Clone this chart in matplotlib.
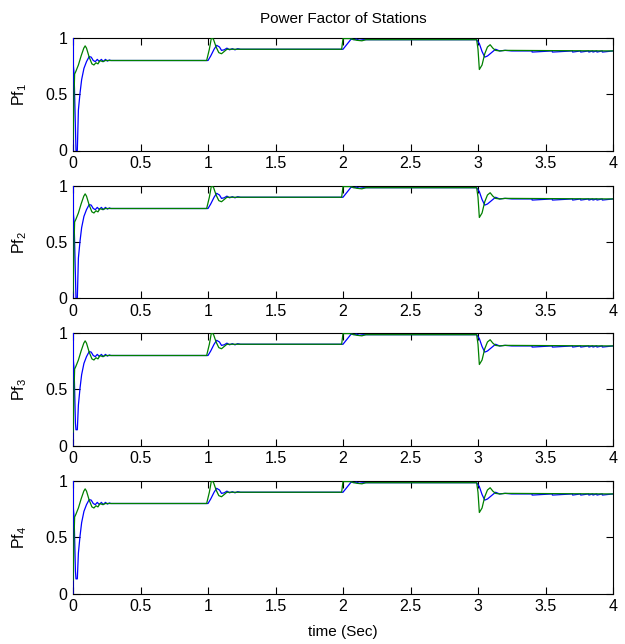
"""
Power factor of four stations, MATLAB-style stacked subplots.
"""
import matplotlib
matplotlib.use("Agg")
import matplotlib.pyplot as plt

plt.rcParams['font.family'] = ['Liberation Sans', 'DejaVu Sans']
plt.rcParams['mathtext.fontset'] = 'custom'
plt.rcParams['mathtext.rm'] = 'Liberation Sans'

# ---------------------------------------------------------------------------
# Data (blue and green traces, same shape for each station)
# ---------------------------------------------------------------------------
blue_t = [0.0, 0.0, 0.003, 0.008, 0.012, 0.018, 0.022, 0.032, 0.04, 0.052,
          0.064, 0.081, 0.1, 0.12, 0.135, 0.15, 0.165, 0.18, 0.195, 0.21,
          0.225, 0.24, 0.255, 0.27, 0.28,
          1.0, 1.02, 1.045, 1.064, 1.085, 1.1, 1.12, 1.14, 1.16, 1.18,
          1.2, 1.22, 1.24,
          2.0, 2.02, 2.04, 2.06, 2.08, 2.1, 2.12, 2.15, 2.18,
          2.99, 3.01, 3.03, 3.05, 3.07, 3.1, 3.13, 3.16, 3.2, 3.25,
          3.4, 3.401, 3.55, 3.551, 3.7, 3.701, 3.76, 3.761, 3.82, 3.821,
          3.85, 3.851, 3.88, 3.881, 3.92, 3.921, 4.0]
blue_v = [0.0, 1.0, 0.75, 0.68, 0.5, 0.2, 0.0, 0.0, 0.36, 0.51,
          0.63, 0.73, 0.79, 0.835, 0.83, 0.80, 0.79, 0.81, 0.79, 0.81,
          0.79, 0.81, 0.795, 0.805, 0.80,
          0.80, 0.84, 0.90, 0.935, 0.92, 0.89, 0.895, 0.91, 0.895, 0.905,
          0.895, 0.905, 0.90,
          0.90, 0.93, 0.96, 0.99, 0.985, 0.99, 0.98, 0.985, 0.985,
          0.985, 0.95, 0.88, 0.83, 0.84, 0.87, 0.90, 0.885, 0.89, 0.885,
          0.885, 0.875, 0.885, 0.875, 0.885, 0.875, 0.885, 0.875, 0.885, 0.875,
          0.885, 0.875, 0.885, 0.875, 0.885, 0.875, 0.885]

green_t = [0.0, 0.008, 0.012, 0.02, 0.04, 0.06, 0.08, 0.09, 0.1, 0.12,
           0.14, 0.155, 0.17, 0.185, 0.2, 0.22, 0.24, 0.26,
           0.99, 1.01, 1.025, 1.04, 1.06, 1.08, 1.1, 1.12, 1.14, 1.16,
           1.99, 2.0, 2.05, 2.1, 2.14, 2.17,
           2.99, 3.0, 3.01, 3.03, 3.05, 3.07, 3.09, 3.11, 3.13, 3.16, 3.2, 4.0]
green_v = [0.1, 0.5, 0.68, 0.70, 0.76, 0.84, 0.91, 0.93, 0.91, 0.83,
           0.77, 0.76, 0.78, 0.77, 0.80, 0.79, 0.80, 0.80,
           0.80, 0.90, 1.0, 0.99, 0.92, 0.87, 0.86, 0.88, 0.90, 0.90,
           0.90, 0.995, 0.995, 0.98, 0.975, 0.985,
           0.985, 0.90, 0.72, 0.76, 0.86, 0.92, 0.94, 0.91, 0.89, 0.885, 0.89, 0.885]

# per-station differences at start-up
blue_low = [0.0, 0.0, 0.14, 0.13]    # blue minimum just after t=0
green_low = [0.1, 0.05, 0.12, 0.12]  # green value at t=0
labels = ['Pf$_{1}$', 'Pf$_{2}$', 'Pf$_{3}$', 'Pf$_{4}$']

x_ticks = [0, 0.5, 1, 1.5, 2, 2.5, 3, 3.5, 4]
x_ticklabels = ['0', '0.5', '1', '1.5', '2', '2.5', '3', '3.5', '4']
y_ticks = [0, 0.5, 1]
y_ticklabels = ['0', '0.5', '1']

# ---------------------------------------------------------------------------
W, H = 625, 644
fig = plt.figure(figsize=(W / 100, H / 100), dpi=100)
fig.patch.set_facecolor('white')

left, width = 73 / W, 540 / W
tops = [38, 186, 333, 481]
ax_h = 112.5

for i in range(4):
    bottom = 1 - (tops[i] + ax_h) / H
    ax = fig.add_axes([left, bottom, width, ax_h / H])

    bv = list(blue_v)
    bv[6] = blue_low[i]
    bv[7] = blue_low[i]
    gv = list(green_v)
    gv[0] = green_low[i]

    ax.plot(blue_t, bv, color='#0000ff', lw=0.9, zorder=3)
    ax.plot(green_t, gv, color='#008000', lw=0.9, zorder=3.1)

    ax.set_xlim(0, 4)
    ax.set_ylim(0, 1)
    ax.set_xticks(x_ticks)
    ax.set_xticklabels(x_ticklabels)
    ax.set_yticks(y_ticks)
    ax.set_yticklabels(y_ticklabels)
    ax.tick_params(direction='in', length=5, width=0.8, top=True, right=True,
                   labelsize=11.5, pad=4)
    for s in ax.spines.values():
        s.set_linewidth(0.8)
    ax.set_ylabel(labels[i], fontsize=11.5)
    ax.yaxis.set_label_coords(-0.081, 0.5)

    if i == 0:
        ax.set_title('Power Factor of Stations', fontsize=11, pad=11)
    if i == 3:
        ax.set_xlabel('time (Sec)', fontsize=11, labelpad=8)

plt.savefig('out.png', dpi=100)
